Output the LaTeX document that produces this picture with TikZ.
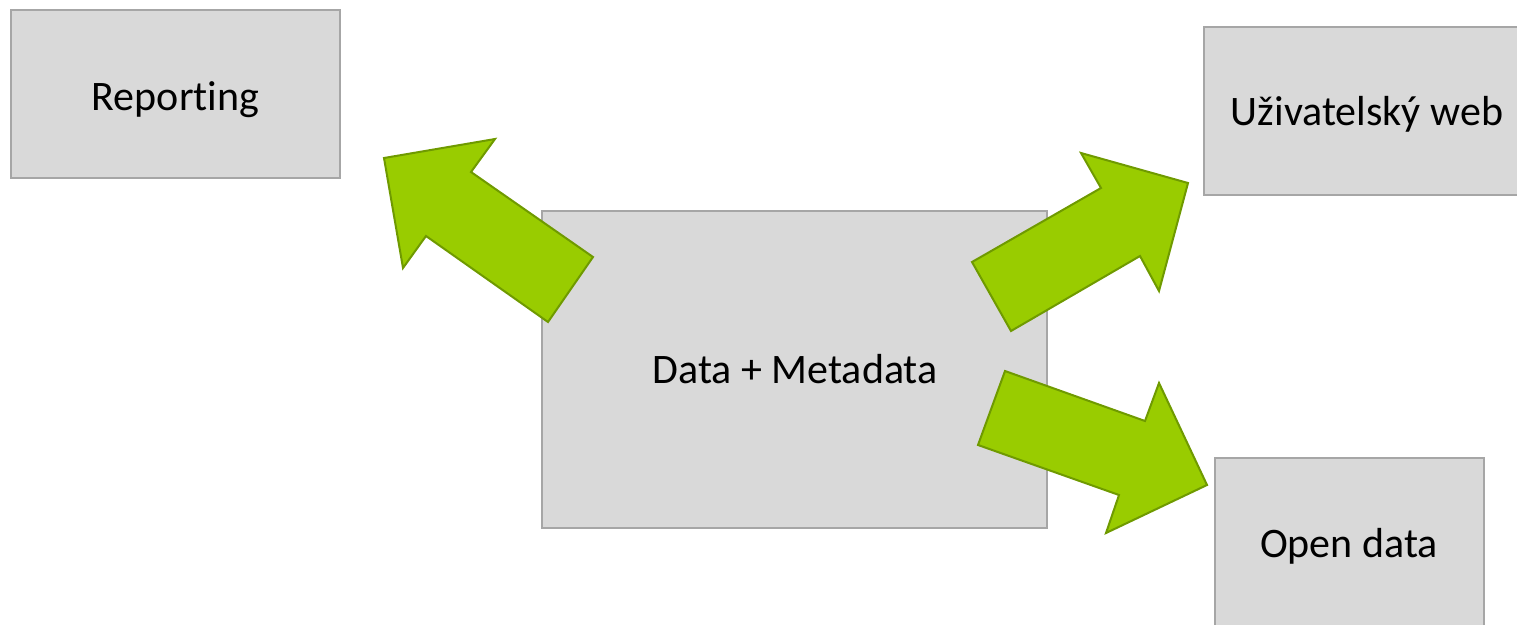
\documentclass[tikz,border=0pt]{standalone}
\usepackage{fontspec}
\setmainfont[RawFeature=-liga]{Carlito}
\definecolor{boxfill}{HTML}{D9D9D9}
\definecolor{boxline}{HTML}{A6A6A6}
\definecolor{arrowfill}{HTML}{99CC00}
\definecolor{arrowline}{HTML}{6F9A00}
\begin{document}
\begin{tikzpicture}[x=1pt,y=-1pt,
  box/.style={draw=boxline,fill=boxfill,line width=2pt},
  boxtext/.style={font=\fontsize{42}{50}\selectfont,text=black,anchor=base,inner sep=0pt},
  bigarrow/.style={draw=arrowline,fill=arrowfill,line width=2pt,line join=miter}]
\useasboundingbox (0,0) rectangle (1517,624);
% boxes
\draw[box] (11,10) rectangle (340,178);
\node[boxtext] (rep) at (175.5,110) {Reporting};
\draw[box] (1204,27) rectangle (1530,195);
\node[boxtext] (web) at (1367,125) {Uživatelský web};
\draw[box] (542,211) rectangle (1047,528);
\node[boxtext] (dm) at (795,383) {Data + Metadata};
\draw[box] (1215,458) rectangle (1484,640);
\node[boxtext] (od) at (1349,557) {Open data};
% arrows
\draw[bigarrow] (384,158) -- (495,139) -- (471,172) -- (593,257) -- (548,322) -- (426,236) -- (403,268) -- cycle;
\draw[bigarrow] (1188,183) -- (1081,153) -- (1101,188) -- (972,262) -- (1011,331) -- (1140,256) -- (1159,291) -- cycle;
\draw[bigarrow] (1005,371) -- (1145,421) -- (1159,383) -- (1207,485) -- (1106,533) -- (1119,495) -- (978,445) -- cycle;
\end{tikzpicture}
\end{document}
